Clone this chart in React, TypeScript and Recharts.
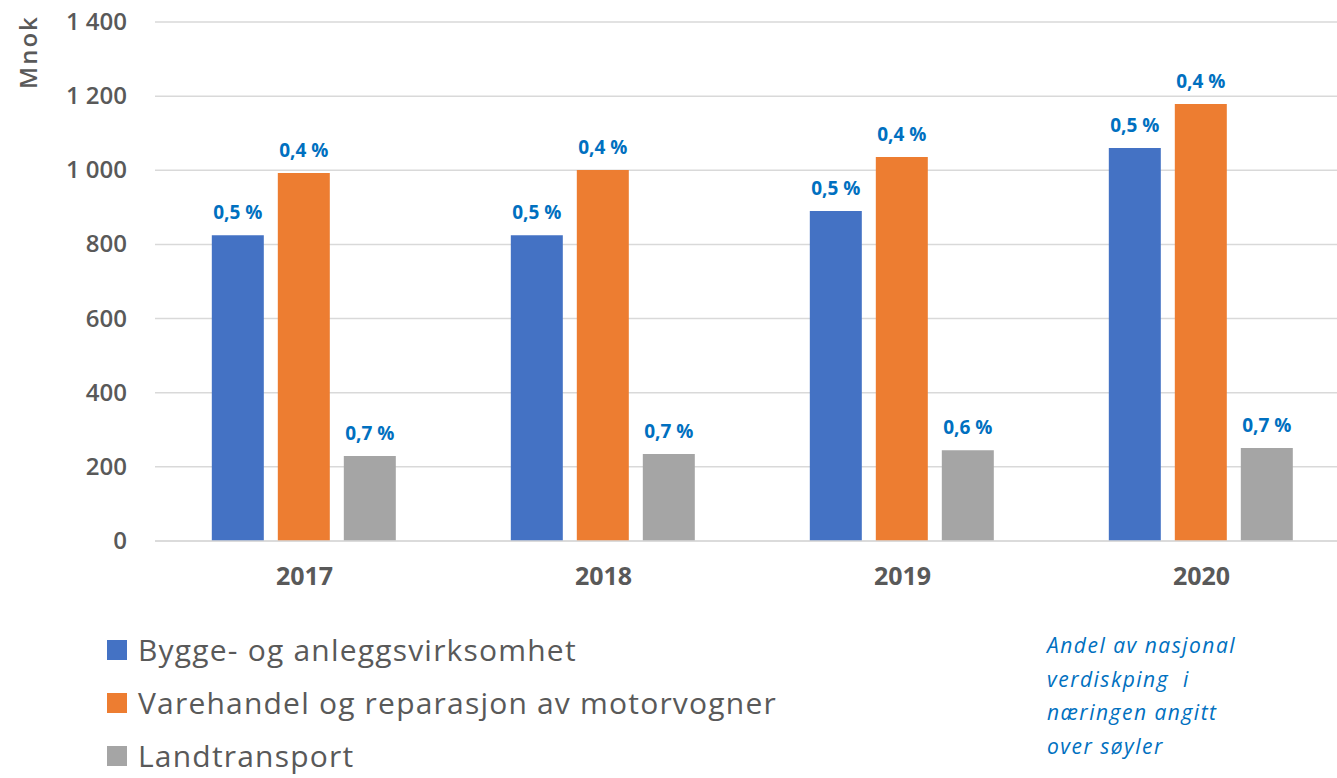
import React from "react";
import {
  BarChart,
  Bar,
  XAxis,
  YAxis,
  CartesianGrid,
  Legend,
  LabelList,
} from "recharts";

const years = ["2017", "2018", "2019", "2020"];
const bygg = [825, 825, 890, 1060];
const varehandel = [993, 1001, 1036, 1179];
const landtransport = [229, 235, 245, 251];
const byggShare = ["0,5 %", "0,5 %", "0,5 %", "0,5 %"];
const varehandelShare = ["0,4 %", "0,4 %", "0,4 %", "0,4 %"];
const landShare = ["0,7 %", "0,7 %", "0,6 %", "0,7 %"];
const yTicks = [0, 200, 400, 600, 800, 1000, 1200, 1400];

const SERIES = [
  { key: "bygg", share: "byggShare", name: "Bygge- og anleggsvirksomhet", color: "#4472C4" },
  { key: "vare", share: "vareShare", name: "Varehandel og reparasjon av motorvogner", color: "#ED7D31" },
  { key: "land", share: "landShare", name: "Landtransport", color: "#A5A5A5" },
];

const data = years.map((year, i) => ({
  year,
  bygg: bygg[i],
  vare: varehandel[i],
  land: landtransport[i],
  byggShare: byggShare[i],
  vareShare: varehandelShare[i],
  landShare: landShare[i],
}));

const FONT = "'Open Sans', sans-serif";
const AXIS_GRAY = "#595959";

const formatThousands = (v: number) =>
  v >= 1000 ? `${Math.floor(v / 1000)} ${String(v % 1000).padStart(3, "0")}` : String(v);

const YTick = (props: any) => {
  const { y, payload } = props;
  return (
    <text
      x={127}
      y={y}
      dy={8}
      textAnchor="end"
      fill={AXIS_GRAY}
      fontSize={24}
      fontWeight={600}
      fontFamily={FONT}
    >
      {formatThousands(payload.value)}
    </text>
  );
};

const renderLegend = () => (
  <div style={{ fontFamily: FONT }}>
    {SERIES.map((s) => (
      <div
        key={s.key}
        style={{
          display: "flex",
          alignItems: "center",
          height: 53,
          color: AXIS_GRAY,
          fontSize: 30,
          lineHeight: "36px",
          letterSpacing: 1.2,
          whiteSpace: "nowrap",
        }}
      >
        <span
          style={{ display: "inline-block", width: 20, height: 20, background: s.color, marginRight: 11 }}
        />
        <span>{s.name}</span>
      </div>
    ))}
  </div>
);

export default function App() {
  return (
    <div
      style={{
        position: "fixed",
        left: 0,
        top: 0,
        width: 1337,
        height: 778,
        overflow: "hidden",
        background: "#fff",
      }}
    >
      <div
        style={{
          position: "absolute",
          left: 27,
          top: 52,
          transform: "translate(-50%, -50%) rotate(-90deg)",
          color: AXIS_GRAY,
          fontFamily: FONT,
          fontWeight: 600,
          fontSize: 24,
          letterSpacing: 2,
          whiteSpace: "nowrap",
        }}
      >
        Mnok
      </div>
      <BarChart
        width={1360}
        height={778}
        data={data}
        margin={{ top: 22, right: 9, left: 0, bottom: 197 }}
        barGap={14}
        barCategoryGap="19%"
      >
        <CartesianGrid vertical={false} stroke="#d9d9d9" strokeWidth={1.5} />
        <XAxis
          dataKey="year"
          height={40}
          axisLine={{ stroke: "#d9d9d9", strokeWidth: 1.5 }}
          tickLine={false}
          tick={{ fill: AXIS_GRAY, fontSize: 25, fontWeight: 700, fontFamily: FONT }}
          tickMargin={20}
        />
        <YAxis
          width={155}
          domain={[0, 1400]}
          ticks={yTicks}
          axisLine={false}
          tickLine={false}
          tick={<YTick />}
        />
        <Legend
          layout="vertical"
          align="center"
          verticalAlign="middle"
          content={renderLegend}
          wrapperStyle={{ left: 107, top: 623, width: 900 }}
        />
        {SERIES.map((s) => (
          <Bar key={s.key} dataKey={s.key} name={s.name} fill={s.color} isAnimationActive={false}>
            <LabelList
              dataKey={s.share}
              position="top"
              offset={16}
              fill="#0070C0"
              fontSize={19}
              fontWeight={700}
              fontFamily={FONT}
            />
          </Bar>
        ))}
      </BarChart>
      <div
        style={{
          position: "absolute",
          left: 1047,
          top: 629,
          color: "#0070C0",
          fontFamily: FONT,
          fontStyle: "italic",
          fontSize: 21,
          letterSpacing: 1.5,
          lineHeight: "33.5px",
          whiteSpace: "pre",
        }}
      >
        {"Andel av nasjonal\nverdiskping  i\nnæringen angitt\nover søyler"}
      </div>
    </div>
  );
}
